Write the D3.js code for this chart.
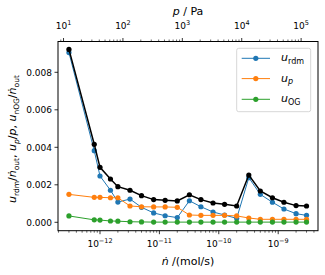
<!DOCTYPE html>
<html><head><meta charset="utf-8">
<script src="https://cdn.jsdelivr.net/npm/d3@7"></script>
<style>body{margin:0;background:#fff}svg{display:block;font-family:"DejaVu Sans",sans-serif}</style>
</head><body><svg id="c" width="325" height="275"></svg>
<script>
const nDot = [3e-13, 8e-13, 1e-12, 1.5e-12, 2e-12, 3.2e-12, 5e-12, 8e-12, 1.25e-11, 2e-11, 3.2e-11, 5e-11, 8e-11, 1.25e-10, 2e-10, 3.2e-10, 5e-10, 8e-10, 1.25e-9, 2e-9, 3e-9];
const uRdm = [0.00905, 0.00382, 0.00247, 0.00171, 0.00108, 0.00124, 0.00080, 0.00050, 0.00035, 0.00025, 0.00115, 0.00083, 0.00055, 0.00039, 0.00021, 0.00238, 0.00149, 0.00107, 0.00071, 0.00046, 0.00037];
const uP   = [0.00149, 0.00133, 0.00133, 0.00131, 0.00131, 0.00087, 0.00083, 0.00082, 0.00082, 0.00080, 0.00039, 0.00037, 0.00037, 0.00037, 0.00034, 0.00023, 0.00016, 0.00016, 0.00016, 0.00016, 0.00016];
const uOG  = [0.00034, 0.00013, 0.00012, 0.00007, 0.00006, 0.00003, 0.00002, 0.00001, 0.00001, 0.00001, 0.00001, 0.00001, 0.00001, 0.00001, 0.00001, 0.00001, 0.00001, 0.00001, 0.00001, 0.00001, 0.00001];
const uTot = [0.00922, 0.00416, 0.00293, 0.00231, 0.00190, 0.00171, 0.00142, 0.00121, 0.00117, 0.00114, 0.00147, 0.00121, 0.00103, 0.00096, 0.00087, 0.00252, 0.00167, 0.00131, 0.00107, 0.00089, 0.00087];
const yTicks = [0, 0.002, 0.004, 0.006, 0.008];
const xTickExp = [-12, -11, -10, -9];
const pTickExp = [1, 2, 3, 4, 5];
const pPerN = Math.pow(10, 13.614);

const svg = d3.select("#c");
const L = 58, R = 318, T = 41.5, B = 230.7;
const x = d3.scaleLog().domain([1.963e-13, 4.68e-9]).range([L, R]);
const xp = d3.scaleLog().domain([1.963e-13 * pPerN, 4.68e-9 * pPerN]).range([L, R]);
const y = d3.scaleLinear().domain([-0.000448, 0.009643]).range([B, T]);

function expLabel(sel, e) {
  sel.text("10");
  sel.append("tspan").attr("dy", -4).attr("font-size", "6.5px").text(String(e).replace("-", "\u2212"));
}

// bottom axis
const minorN = [];
for (let e = -13; e <= -9; e++) for (let k = 1; k <= 9; k++) { const v = k * Math.pow(10, e); if (v >= x.domain()[0] && v <= x.domain()[1]) minorN.push(v); }
const gB = svg.append("g");
minorN.forEach(v => {
  const major = Math.abs(Math.log10(v) - Math.round(Math.log10(v))) < 1e-9;
  gB.append("line").attr("x1", x(v)).attr("x2", x(v)).attr("y1", B).attr("y2", B + (major ? 3.5 : 2)).attr("stroke", "#000").attr("stroke-width", major ? 0.8 : 0.6);
});
xTickExp.forEach(e => {
  const t = gB.append("text").attr("x", x(Math.pow(10, e))).attr("y", 247).attr("text-anchor", "middle").attr("font-size", "9px");
  expLabel(t, e);
});
const xl = svg.append("text").attr("x", 188).attr("y", 265).attr("text-anchor", "middle").attr("font-size", "11px");
xl.append("tspan").attr("font-style", "italic").text("\u1E45");
xl.append("tspan").text(" /(mol/s)");

// top axis
const gT = svg.append("g");
for (let e = 0; e <= 5; e++) for (let k = 1; k <= 9; k++) {
  const v = k * Math.pow(10, e);
  if (v < xp.domain()[0] || v > xp.domain()[1]) continue;
  const major = k === 1;
  gT.append("line").attr("x1", xp(v)).attr("x2", xp(v)).attr("y1", T).attr("y2", T - (major ? 3.5 : 2)).attr("stroke", "#000").attr("stroke-width", major ? 0.8 : 0.6);
}
pTickExp.forEach(e => {
  const t = gT.append("text").attr("x", xp(Math.pow(10, e))).attr("y", 29).attr("text-anchor", "middle").attr("font-size", "9px");
  expLabel(t, e);
});
const tl = svg.append("text").attr("x", 188).attr("y", 15).attr("text-anchor", "middle").attr("font-size", "11px");
tl.append("tspan").attr("font-style", "italic").text("p");
tl.append("tspan").text(" / Pa");

// left axis
const gL = svg.append("g");
yTicks.forEach(v => {
  gL.append("line").attr("x1", L - 3.5).attr("x2", L).attr("y1", y(v)).attr("y2", y(v)).attr("stroke", "#000").attr("stroke-width", 0.8);
  gL.append("text").attr("x", L - 6).attr("y", y(v) + 3.2).attr("text-anchor", "end").attr("font-size", "9px").text(d3.format(".3f")(v));
});
const yl = svg.append("text").attr("transform", "translate(16," + ((T + B) / 2 + 3) + ") rotate(-90)").attr("text-anchor", "middle").attr("font-size", "11px");
let pending = 0;
function part(txt, it, sub) {
  yl.append("tspan").attr("font-style", it ? "italic" : "normal").attr("dy", pending).text(txt);
  pending = 0;
  if (sub) {
    yl.append("tspan").attr("font-size", "7.5px").attr("dy", 2.5).attr("font-style", sub.it ? "italic" : "normal").text(sub.t);
    pending = -2.5;
  }
}
part("u", true, {t: "rdm"});
part("/", false);
part("\u1E45", true, {t: "out"});
part(", ", false);
part("u", true, {t: "p", it: true});
part("/", false);
part("p", true);
part(", ", false);
part("u", true, {t: "nOG"});
part("/", false);
part("\u1E45", true, {t: "out"});

// series
const series = [
  {v: uRdm, c: "#1f77b4", w: 1},
  {v: uP, c: "#ff7f0e", w: 1},
  {v: uOG, c: "#2ca02c", w: 1},
  {v: uTot, c: "#000000", w: 1.5}
];
const line = d3.line().x(d => x(d[0])).y(d => y(d[1]));
series.forEach(s => {
  const pts = nDot.map((n, i) => [n, s.v[i]]);
  svg.append("path").attr("d", line(pts)).attr("fill", "none").attr("stroke", s.c).attr("stroke-width", s.w);
  svg.append("g").selectAll("circle").data(pts).join("circle")
    .attr("cx", d => x(d[0])).attr("cy", d => y(d[1])).attr("r", 2.6).attr("fill", s.c);
});

// frame
svg.append("rect").attr("x", L).attr("y", T).attr("width", R - L).attr("height", B - T).attr("fill", "none").attr("stroke", "#000").attr("stroke-width", 1);

// legend
const lg = svg.append("g");
lg.append("rect").attr("x", 236.7).attr("y", 48.3).attr("width", 74).attr("height", 63.4).attr("rx", 2).attr("fill", "#fff").attr("fill-opacity", 0.8).attr("stroke", "#ccc").attr("stroke-width", 0.8);
const legItems = [
  {c: "#1f77b4", sub: "rdm", it: false},
  {c: "#ff7f0e", sub: "p", it: true},
  {c: "#2ca02c", sub: "OG", it: false}
];
const rowsY = [58.3, 78.6, 99.3];
legItems.forEach((d, i) => {
  const yy = rowsY[i];
  lg.append("line").attr("x1", 241.7).attr("x2", 270).attr("y1", yy).attr("y2", yy).attr("stroke", d.c).attr("stroke-width", 1);
  lg.append("circle").attr("cx", 255.8).attr("cy", yy).attr("r", 2.6).attr("fill", d.c);
  const t = lg.append("text").attr("x", 281).attr("y", yy + 3).attr("font-size", "11px");
  t.append("tspan").attr("font-style", "italic").text("u");
  t.append("tspan").attr("font-size", "8px").attr("dy", 2.5).attr("font-style", d.it ? "italic" : "normal").text(d.sub);
});
</script></body></html>
